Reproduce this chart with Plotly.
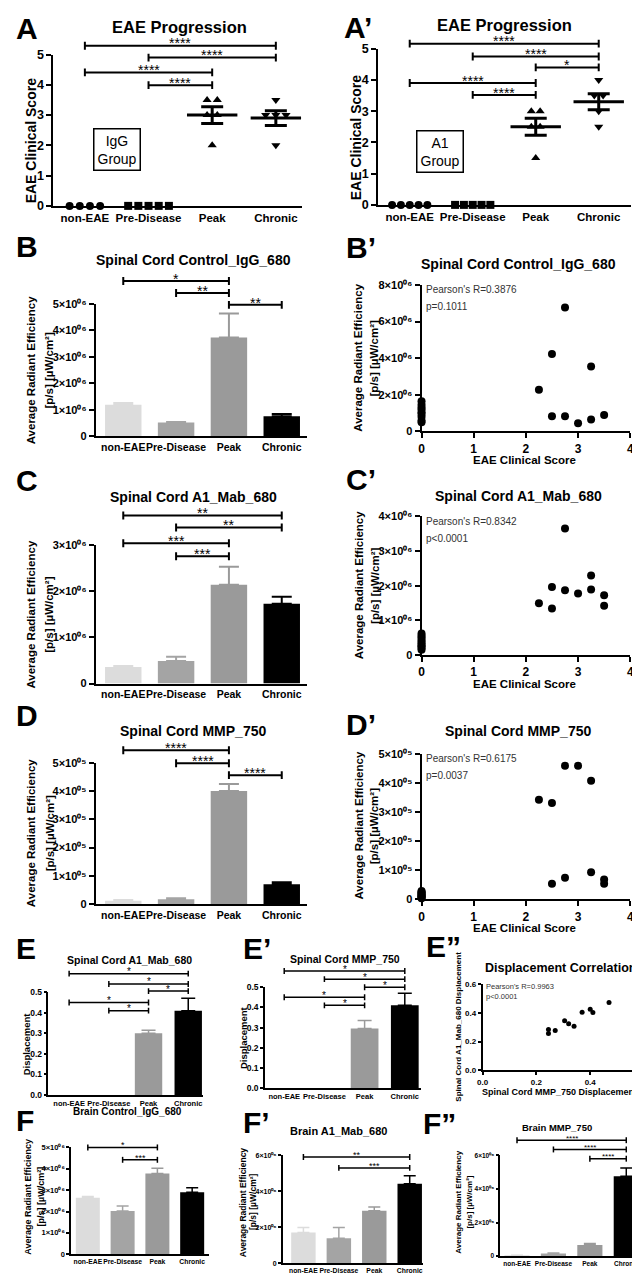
import numpy as np
import plotly.graph_objects as go

W, H = 640, 1274
SANS = "Liberation Sans, Arial, sans-serif"

groups = ["non-EAE", "Pre-Disease", "Peak", "Chronic"]
bar_colors = ["#dcdcdc", "#a4a4a4", "#9a9a9a", "#000000"]
score_symbols = ["circle", "square", "triangle-up", "triangle-down"]

# A / A' : EAE clinical score of each mouse
igg_scores = [
    [0, 0, 0, 0],
    [0, 0, 0, 0, 0],
    [3.5, 3.5, 3, 3, 2],
    [3.5, 3, 3, 3, 2],
]
a1_scores = [
    [0, 0, 0, 0, 0],
    [0, 0, 0, 0, 0],
    [3, 3, 2.5, 2.5, 1.5],
    [4, 3.5, 3.5, 3, 2.5],
]
igg_sig = [(0, 3, "****"), (1, 3, "****"), (0, 2, "****"), (1, 2, "****")]
a1_sig = [(0, 3, "****"), (1, 3, "****"), (2, 3, "*"), (0, 2, "****"), (1, 2, "****")]

# B, C, D : spinal cord radiant efficiency, mean and SEM
sc_igg_mean = [1.19e6, 0.52e6, 3.73e6, 0.76e6]
sc_igg_sem = [0.07e6, 0.02e6, 0.90e6, 0.08e6]
sc_igg_sig = [(0, 2, "*"), (1, 2, "**"), (2, 3, "**")]

sc_a1_mean = [0.36e6, 0.49e6, 2.14e6, 1.73e6]
sc_a1_sem = [0.02e6, 0.09e6, 0.39e6, 0.15e6]
sc_a1_sig = [(0, 3, "**"), (1, 3, "**"), (0, 2, "***"), (1, 2, "***")]

sc_mmp_mean = [1.2e4, 1.7e4, 4.0e5, 7.0e4]
sc_mmp_sem = [0.3e4, 0.4e4, 0.25e5, 0.7e4]
sc_mmp_sig = [(0, 2, "****"), (1, 2, "****"), (2, 3, "****")]

# B', C', D' : signal of each mouse against its clinical score
igg_corr_score = [0, 0, 0, 0, 0, 0, 0, 0, 0, 2.75, 2.5, 3.25, 2.25, 2.5, 2.75, 3.0, 3.25, 3.5]
igg_corr_val = [1.65e6, 1.45e6, 1.3e6, 1.2e6, 1.05e6, 0.95e6, 0.8e6, 0.6e6, 0.5e6,
                6.77e6, 4.23e6, 3.55e6, 2.27e6, 0.83e6, 0.83e6, 0.45e6, 0.65e6, 0.9e6]
a1_corr_score = [0, 0, 0, 0, 0, 0, 0, 0, 0, 0, 2.75, 3.25, 2.5, 2.75, 3.0, 3.25, 3.5, 2.25, 2.5, 3.5]
a1_corr_val = [0.62e6, 0.55e6, 0.5e6, 0.44e6, 0.38e6, 0.33e6, 0.28e6, 0.24e6, 0.2e6, 0.15e6,
               3.65e6, 2.29e6, 1.96e6, 1.87e6, 1.77e6, 1.89e6, 1.72e6, 1.49e6, 1.34e6, 1.42e6]
mmp_corr_score = [0, 0, 0, 0, 0, 0, 0, 0, 0, 0, 2.75, 3.0, 3.25, 2.25, 2.5, 2.5, 2.75, 3.25, 3.5, 3.5]
mmp_corr_val = [2.8e4, 2.5e4, 2.2e4, 1.9e4, 1.6e4, 1.3e4, 1.0e4, 0.8e4, 0.5e4, 0.3e4,
                4.59e5, 4.59e5, 4.07e5, 3.42e5, 3.31e5, 0.53e5, 0.74e5, 0.93e5, 0.68e5, 0.53e5]
igg_stats = ["Pearson's R=0.3876", "p=0.1011"]
a1_stats = ["Pearson's R=0.8342", "p&lt;0.0001"]
mmp_stats = ["Pearson's R=0.6175", "p=0.0037"]

# E, E', E'' : displacement
disp_a1_mean = [0, 0, 0.30, 0.41]
disp_a1_sem = [0, 0, 0.015, 0.06]
disp_mmp_mean = [0, 0, 0.295, 0.41]
disp_mmp_sem = [0, 0, 0.04, 0.06]
disp_sig = [(0, 3, "*"), (1, 3, "*"), (2, 3, "*"), (0, 2, "*"), (1, 2, "*")]
disp_mmp = [0.245, 0.245, 0.27, 0.305, 0.32, 0.34, 0.37, 0.40, 0.41, 0.47]
disp_a1 = [0.285, 0.256, 0.278, 0.346, 0.325, 0.307, 0.405, 0.425, 0.402, 0.473]
disp_stats = ["Pearson's R=0.9963", "p&lt;0.0001"]

# F, F', F'' : brain radiant efficiency, mean and SEM
br_igg_mean = [2.64e6, 2.02e6, 3.78e6, 2.9e6]
br_igg_sem = [0.06e6, 0.24e6, 0.24e6, 0.21e6]
br_igg_sig = [(0, 2, "*"), (1, 2, "***")]
br_a1_mean = [1.7e6, 1.39e6, 2.92e6, 4.42e6]
br_a1_sem = [0.28e6, 0.6e6, 0.2e6, 0.45e6]
br_a1_sig = [(0, 3, "**"), (1, 3, "***")]
br_mmp_mean = [0.05e6, 0.16e6, 0.67e6, 4.75e6]
br_mmp_sem = [0.01e6, 0.03e6, 0.09e6, 0.5e6]
br_mmp_sig = [(0, 3, "****"), (1, 3, "****"), (2, 3, "****")]

SUP = str.maketrans("0123456789", "⁰¹²³⁴⁵⁶⁷⁸⁹")

fig = go.Figure()
axes_layout = {}
shapes = []
notes = []


def ids(n):
    s = "" if n == 1 else str(n)
    return "x" + s, "y" + s, "xaxis" + s, "yaxis" + s


def font(size, bold=True, family=SANS, color="black"):
    return dict(family=family, size=size, color=color, weight="bold" if bold else "normal")


def sci(vals, exp):
    sup = f"{exp:02d}".translate(SUP)
    return ["0" if v == 0 else f"{round(v / 10 ** exp)}×10{sup}" for v in vals]


def set_axes(n, x0, x1, top, bottom, xr, yr, xtv, xtt, ytv, ytt, xf, yf,
             lw=2, tl=5, xticks=""):
    xa, ya, xk, yk = ids(n)
    common = dict(showline=True, linecolor="black", linewidth=lw, showgrid=False,
                  zeroline=False, tickcolor="black", tickwidth=lw, ticklen=tl,
                  fixedrange=True, tickmode="array", tickangle=0)
    axes_layout[xk] = dict(common, domain=[x0 / W, x1 / W], range=xr, anchor=ya,
                           tickvals=xtv, ticktext=xtt, ticks=xticks, tickfont=xf)
    axes_layout[yk] = dict(common, domain=[1 - bottom / H, 1 - top / H], range=yr,
                           anchor=xa, tickvals=ytv, ticktext=ytt, ticks="outside",
                           tickfont=yf)


def cat_range(x0, x1, c0, c3):
    sp = (c3 - c0) / 3
    return [(x0 - c0) / sp, (x1 - c0) / sp]


def brackets(n, sig, levels, ymax, dom_px, lw=2, cap=4, star=14):
    xa, ya, _, _ = ids(n)
    yref = ya + " domain"
    c = cap / dom_px
    for (i, j, lab), lev in zip(sig, levels):
        yd = lev / ymax
        shapes.append(dict(type="line", xref=xa, yref=yref, x0=i, x1=j, y0=yd, y1=yd,
                           line=dict(color="black", width=lw)))
        for xx in (i, j):
            shapes.append(dict(type="line", xref=xa, yref=yref, x0=xx, x1=xx,
                               y0=yd - c, y1=yd + c, line=dict(color="black", width=lw)))
        notes.append(dict(xref=xa, yref=yref, x=(i + j) / 2, y=yd, text=lab,
                          showarrow=False, yanchor="bottom", yshift=-0.55 * star,
                          font=font(star, bold=False)))


def text(px, py, s, size, bold=True, angle=0, xanchor="center", color="black", **kw):
    notes.append(dict(xref="paper", yref="paper", x=px / W, y=1 - py / H, text=s,
                      showarrow=False, textangle=angle, xanchor=xanchor,
                      yanchor="middle", font=font(size, bold, SANS, color), **kw))


def swarm(vals, step):
    out = []
    for i, v in enumerate(vals):
        same = [k for k, w in enumerate(vals) if w == v]
        out.append((same.index(i) - (len(same) - 1) / 2) * step)
    return out


def dot_panel(n, scores, step, msize=8):
    xa, ya, _, _ = ids(n)
    for g, vals in enumerate(scores):
        offs = swarm(vals, step)
        fig.add_trace(go.Scatter(
            x=[g + o for o in offs], y=vals, mode="markers", cliponaxis=False,
            marker=dict(symbol=score_symbols[g], size=msize, color="black"),
            xaxis=xa, yaxis=ya, showlegend=False))
        m = float(np.mean(vals))
        s = float(np.std(vals, ddof=1) / np.sqrt(len(vals)))
        if m > 0:
            fig.add_trace(go.Scatter(
                x=[g], y=[m], mode="markers", cliponaxis=False,
                marker=dict(symbol="line-ew", size=36, line=dict(width=3, color="black")),
                error_y=dict(type="data", array=[s], thickness=3, width=11, color="black"),
                xaxis=xa, yaxis=ya, showlegend=False))


def bar_panel(n, means, sems, lw=2, cap=10):
    xa, ya, _, _ = ids(n)
    for g in range(4):
        fig.add_trace(go.Bar(
            x=[g], y=[means[g]], width=0.69,
            marker=dict(color=bar_colors[g], line_width=0),
            error_y=dict(type="data", symmetric=False, array=[sems[g]], arrayminus=[0],
                         color=bar_colors[g], thickness=lw, width=cap,
                         visible=sems[g] > 0),
            xaxis=xa, yaxis=ya, showlegend=False))


def scatter_panel(n, xs, ys, size=8):
    xa, ya, _, _ = ids(n)
    fig.add_trace(go.Scatter(x=xs, y=ys, mode="markers", cliponaxis=False,
                             marker=dict(size=size, color="black"),
                             xaxis=xa, yaxis=ya, showlegend=False))


cat = [0, 1, 2, 3]
big_x = font(10.5)
big_y = font(11)

# ---------------- A / A'
set_axes(1, 40, 293, 40, 193, cat_range(40, 293, 72, 266), [0, 5], cat, groups,
         list(range(6)), [str(k) for k in range(6)], font(11.5), font(12.5))
dot_panel(1, igg_scores, 0.16)
brackets(1, igg_sig, [5.29, 4.9, 4.41, 3.99], 5, 153)
set_axes(2, 370, 627, 34, 192, cat_range(370, 627, 402, 594), [0, 5], cat, groups,
         list(range(6)), [str(k) for k in range(6)], font(11.5), font(12.5))
dot_panel(2, a1_scores, 0.14)
brackets(2, a1_sig, [5.16, 4.75, 4.4, 3.9, 3.52], 5, 158)

# ---------------- B, C, D
for n, means, sems, sig, levels, top, bottom, ymax, exp in [
    (3, sc_igg_mean, sc_igg_sem, sc_igg_sig, [5.86e6, 5.41e6, 4.96e6], 292, 426, 5e6, 6),
    (5, sc_a1_mean, sc_a1_sem, sc_a1_sig, [3.64e6, 3.38e6, 3.04e6, 2.76e6], 536, 676, 3e6, 6),
    (7, sc_mmp_mean, sc_mmp_sem, sc_mmp_sig, [5.44e5, 4.98e5, 4.56e5], 756, 899, 5e5, 5),
]:
    tv = [k * 10 ** exp for k in range(int(round(ymax / 10 ** exp)) + 1)]
    set_axes(n, 83, 298, top, bottom, cat_range(83, 298, 111, 272), [0, ymax], cat, groups,
             tv, sci(tv, exp), big_x, big_y)
    bar_panel(n, means, sems)
    brackets(n, sig, levels, ymax, bottom - top)

# ---------------- B', C', D'
for n, xs, ys, stats, top, bottom, ymax, step, exp in [
    (4, igg_corr_score, igg_corr_val, igg_stats, 273, 421, 8e6, 2e6, 6),
    (6, a1_corr_score, a1_corr_val, a1_stats, 507, 647, 4e6, 1e6, 6),
    (8, mmp_corr_score, mmp_corr_val, mmp_stats, 747, 894, 5e5, 1e5, 5),
]:
    tv = [k * step for k in range(int(round(ymax / step)) + 1)]
    set_axes(n, 414, 626, top, bottom, [0, 4], [0, ymax], [0, 1, 2, 3, 4],
             ["0", "1", "2", "3", "4"], tv, sci(tv, exp), font(12), big_y, xticks="outside")
    scatter_panel(n, xs, ys)
    text(417, top + 5, stats[0], 10, bold=False, xanchor="left", color="#333333")
    text(417, top + 22, stats[1], 10, bold=False, xanchor="left", color="#333333")
    text(519, bottom + 29, "EAE Clinical Score", 11.5)

# ---------------- E, E'
small_x = font(7.5)
small_y = font(8.5)
dtv = [0, 0.1, 0.2, 0.3, 0.4, 0.5]
dtt = ["0.0", "0.1", "0.2", "0.3", "0.4", "0.5"]
set_axes(9, 35, 192, 988, 1092, cat_range(35, 192, 56, 177), [0, 0.5], cat, groups,
         dtv, dtt, small_x, small_y, lw=1.5, tl=3)
bar_panel(9, disp_a1_mean, disp_a1_sem, lw=1.5, cap=7)
brackets(9, disp_sig, [0.59, 0.54, 0.505, 0.45, 0.41], 0.5, 104, lw=1.5, cap=3, star=10)
set_axes(10, 255, 413, 983, 1085, cat_range(255, 413, 274.5, 397), [0, 0.5], cat, groups,
         dtv, dtt, small_x, small_y, lw=1.5, tl=3)
bar_panel(10, disp_mmp_mean, disp_mmp_sem, lw=1.5, cap=7)
brackets(10, disp_sig, [0.58, 0.54, 0.50, 0.45, 0.41], 0.5, 102, lw=1.5, cap=3, star=10)

# ---------------- E''
set_axes(11, 476, 640, 980, 1067, [0, 0.6], [0, 0.6], [0, 0.2, 0.4, 0.6],
         ["0.0", "0.2", "0.4", "0.6"], [0, 0.2, 0.4, 0.6], ["0.0", "0.2", "0.4", "0.6"],
         font(8), font(8), lw=1.5, tl=3, xticks="outside")
scatter_panel(11, disp_mmp, disp_a1, size=5)
text(477, 982, disp_stats[0], 7.5, bold=False, xanchor="left", color="#333333")
text(477, 992, disp_stats[1], 7.5, bold=False, xanchor="left", color="#333333")
text(554, 1089, "Spinal Cord MMP_750 Displacement", 9)
text(452, 1023, "Spinal Cord A1_Mab_680 Displacement", 8, angle=-90)

# ---------------- F, F', F''
ftv = [k * 1e6 for k in range(6)]
set_axes(12, 58, 198, 1145, 1253, cat_range(58, 198, 75, 181), [0, 5e6], cat, groups,
         ftv, sci(ftv, 6), font(6.8), font(7.5), lw=1.5, tl=3)
bar_panel(12, br_igg_mean, br_igg_sem, lw=1.5, cap=6)
brackets(12, br_igg_sig, [5.0e6, 4.42e6], 5e6, 108, lw=1.5, cap=3, star=9)
f2tv = [0, 2e6, 4e6, 6e6]
set_axes(13, 273, 415, 1153, 1262, cat_range(273, 415, 294, 402), [0, 6e6], cat, groups,
         f2tv, sci(f2tv, 6), font(6.8), font(7), lw=1.5, tl=3)
bar_panel(13, br_a1_mean, br_a1_sem, lw=1.5, cap=6)
brackets(13, br_a1_sig, [5.91e6, 5.3e6], 6e6, 109, lw=1.5, cap=3, star=9)
set_axes(14, 494, 638, 1153, 1255, cat_range(494, 638, 511, 622), [0, 6e6], cat, groups,
         f2tv, sci(f2tv, 6), font(6.5), font(6.5), lw=1.5, tl=3)
bar_panel(14, br_mmp_mean, br_mmp_sem, lw=1.5, cap=6)
brackets(14, br_mmp_sig, [6.9e6, 6.35e6, 5.8e6], 6e6, 102, lw=1.5, cap=3, star=8)

# ---------------- titles, axis titles, panel letters
for px, py, s, size in [
    (168, 12, "EAE Progression", 16.5), (498, 10, "EAE Progression", 16.5),
    (182, 248, "Spinal Cord Control_IgG_680", 14), (512, 252, "Spinal Cord Control_IgG_680", 14),
    (182, 487, "Spinal Cord A1_Mab_680", 14), (512, 486, "Spinal Cord A1_Mab_680", 14),
    (182, 724, "Spinal Cord MMP_750", 14), (512, 724, "Spinal Cord MMP_750", 14),
    (117, 956, "Spinal Cord A1_Mab_680", 10.5), (336, 954, "Spinal Cord MMP_750", 10.5),
    (555, 964, "Displacement Correlation", 12.5),
    (115, 1109, "Brain Control_IgG_680", 10), (330, 1128, "Brain A1_Mab_680", 11),
    (552, 1125, "Brain MMP_750", 9.5),
]:
    text(px, py, s, size)

text(17, 127, "EAE Clinical Score", 14, angle=-90)
text(347, 124, "EAE Clinical Score", 14, angle=-90)

eff1 = "Average Radiant Efficiency"
eff2 = "[p/s] [µW/cm²]"
for x1, x2, yc, size in [
    (17.5, 36, 359, 11.5), (17.5, 36, 606, 11.5), (17.5, 36, 827, 11.5),
    (350, 366, 347, 11.5), (350, 366, 577, 11.5), (350, 366, 820, 11.5),
    (14, 27, 1195, 9), (232, 243, 1200, 8.5), (452, 463, 1200, 8),
]:
    text(x1, yc, eff1, size, angle=-90)
    text(x2, yc, eff2, size, angle=-90)

text(13, 1040, "Displacement", 9.5, angle=-90)
text(233, 1034, "Displacement", 9.5, angle=-90)

text(105, 136, "IgG<br>Group", 14, bold=False, bordercolor="black", borderwidth=1.5, borderpad=3)
text(433, 138, "A1<br>Group", 14, bold=False, bordercolor="black", borderwidth=1.5, borderpad=3)

for px, py, s in [
    (0, 14, "A"), (333, 13, "A’"), (0, 234, "B"), (335, 235, "B’"),
    (0, 471, "C"), (335, 470, "C’"), (0, 708, "D"), (335, 717, "D’"),
    (0, 944, "E"), (231, 944, "E’"), (416, 942, "E”"),
    (0, 1118, "F"), (231, 1120, "F’"), (413, 1121, "F”"),
]:
    text(px, py, s, 30, xanchor="left")

fig.update_layout(
    width=W, height=H, margin=dict(l=0, r=0, t=0, b=0),
    paper_bgcolor="white", plot_bgcolor="white", showlegend=False,
    barmode="overlay", font=dict(family=SANS, color="black"),
    shapes=shapes, annotations=notes, **axes_layout,
)
fig.write_html("out.html")
